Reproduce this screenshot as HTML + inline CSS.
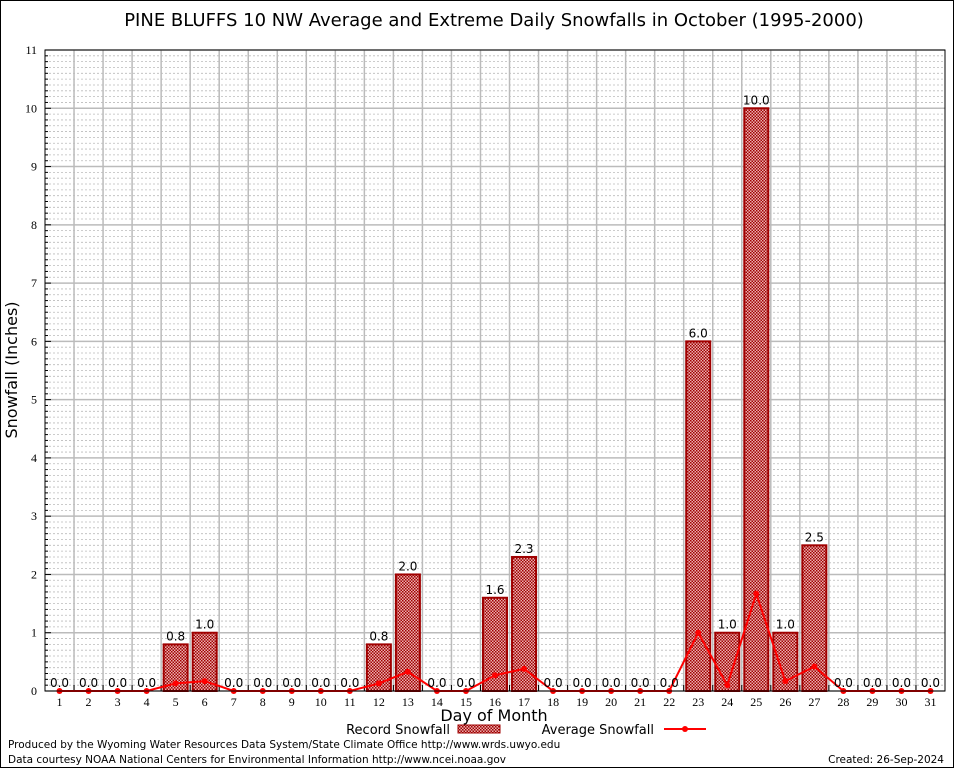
<!DOCTYPE html>
<html><head><meta charset="utf-8"><style>
body{margin:0;background:#fff}
svg{display:block}
</style></head><body>
<svg id="c" width="954" height="768" xmlns="http://www.w3.org/2000/svg">
<defs>
<pattern id="hatch" width="3" height="3" patternUnits="userSpaceOnUse">
<rect width="3" height="3" fill="#eab0b0"/>
<rect x="0" y="0" width="1.5" height="1.5" fill="#a00000"/>
<rect x="1.5" y="1.5" width="1.5" height="1.5" fill="#a00000"/>
</pattern>
</defs>
<rect x="0.5" y="0.5" width="953" height="767" fill="#fff" stroke="#000"/>
<text x="494" y="26" font-family="DejaVu Sans, sans-serif" font-size="18" text-anchor="middle">PINE BLUFFS 10 NW Average and Extreme Daily Snowfalls in October (1995-2000)</text>
<g id="grid"></g>
<g id="bars"></g>
<g id="line"></g>
<g id="labels"></g>
<rect x="45" y="50" width="900" height="641" fill="none" stroke="#000"/>
<text transform="translate(17,370) rotate(-90)" font-family="DejaVu Sans, sans-serif" font-size="16" text-anchor="middle">Snowfall (Inches)</text>
<text x="494" y="721" font-family="DejaVu Sans, sans-serif" font-size="16" text-anchor="middle">Day of Month</text>
<g>
<text x="450" y="734" font-family="DejaVu Sans, sans-serif" font-size="13" text-anchor="end">Record Snowfall</text>
<rect x="458" y="725" width="42" height="8" fill="url(#hatch)" stroke="#a00000"/>
</g>
<g>
<text x="654" y="734" font-family="DejaVu Sans, sans-serif" font-size="13" text-anchor="end">Average Snowfall</text>
<line x1="664" y1="729" x2="706" y2="729" stroke="#ff0000" stroke-width="2"/>
<circle cx="685" cy="729" r="3" fill="#ff0000"/>
</g>
<text x="8" y="748" font-family="DejaVu Sans, sans-serif" font-size="10.5">Produced by the Wyoming Water Resources Data System/State Climate Office http://www.wrds.uwyo.edu</text>
<text x="8" y="763" font-family="DejaVu Sans, sans-serif" font-size="10.5">Data courtesy NOAA National Centers for Environmental Information http://www.ncei.noaa.gov</text>
<text x="944" y="763" font-family="DejaVu Sans, sans-serif" font-size="10.5" text-anchor="end">Created:  26-Sep-2024</text>
</svg>
<script>
const days=[1,2,3,4,5,6,7,8,9,10,11,12,13,14,15,16,17,18,19,20,21,22,23,24,25,26,27,28,29,30,31];
const recordVals=[0,0,0,0,0.8,1.0,0,0,0,0,0,0.8,2.0,0,0,1.6,2.3,0,0,0,0,0,6.0,1.0,10.0,1.0,2.5,0,0,0,0];
const avgVals=[0,0,0,0,0.13,0.17,0,0,0,0,0,0.13,0.33,0,0,0.27,0.38,0,0,0,0,0,1.0,0.1,1.67,0.17,0.42,0,0,0,0];
const yTicks=[0,1,2,3,4,5,6,7,8,9,10,11];
const NS='http://www.w3.org/2000/svg';
const L=45,R=945,T=50,B=691,yMax=11;
const step=(R-L)/days.length;
const xs=d=>L+step*(d-0.5);
const ys=v=>B-(v/yMax)*(B-T);
function mk(tag,at,parent){const e=document.createElementNS(NS,tag);for(const k in at)e.setAttribute(k,at[k]);parent.appendChild(e);return e;}
const g=document.getElementById('grid');
for(let v=0;v<=yMax*10;v++){const y=ys(v/10);const major=v%10===0;
 const l=mk('line',{x1:L,x2:R,y1:y,y2:y,stroke:'#bbb','stroke-width':major?1.5:0.8,'stroke-dasharray':major?'':'2,2'},g);
 
 
 mk('line',{x1:L,x2:L+(major?6:3),y1:y,y2:y,stroke:'#000'},g);
}
yTicks.forEach(t=>{const tx=mk('text',{x:L-8,y:ys(t)+4,'font-family':'Liberation Serif, serif','font-size':12,'text-anchor':'end'},g);tx.textContent=t;
 
 });
for(let i=1;i<days.length;i++){const x=L+step*i;
 const l=mk('line',{x1:x,x2:x,y1:T,y2:B,stroke:'#bbb','stroke-width':1.5},g);
 
 
 mk('line',{x1:x,x2:x,y1:B,y2:B-6,stroke:'#000'},g);}
days.forEach(d=>{const tx=mk('text',{x:xs(d),y:B+15,'font-family':'Liberation Serif, serif','font-size':12,'text-anchor':'middle'},g);tx.textContent=d;
 
 });
const bg=document.getElementById('bars'),lg=document.getElementById('labels');
days.forEach((d,i)=>{const v=recordVals[i];
 if(v>0){const r=mk('rect',{x:xs(d)-12,y:ys(v),width:24,height:B-ys(v),fill:'url(#hatch)',stroke:'#a00000','stroke-width':2},bg);
  
  }
 const t=mk('text',{x:xs(d),y:ys(v)-4,'font-family':'DejaVu Sans, sans-serif','font-size':12,'text-anchor':'middle'},lg);
 t.textContent=v.toFixed(1);
 
 });
const ln=document.getElementById('line');
const p=mk('polyline',{points:days.map((d,i)=>xs(d)+','+ys(avgVals[i])).join(' '),fill:'none',stroke:'#ff0000','stroke-width':2},ln);


days.forEach((d,i)=>{const c=mk('circle',{cx:xs(d),cy:ys(avgVals[i]),r:3,fill:'#ff0000'},ln);
 
 });
</script>
</body></html>
